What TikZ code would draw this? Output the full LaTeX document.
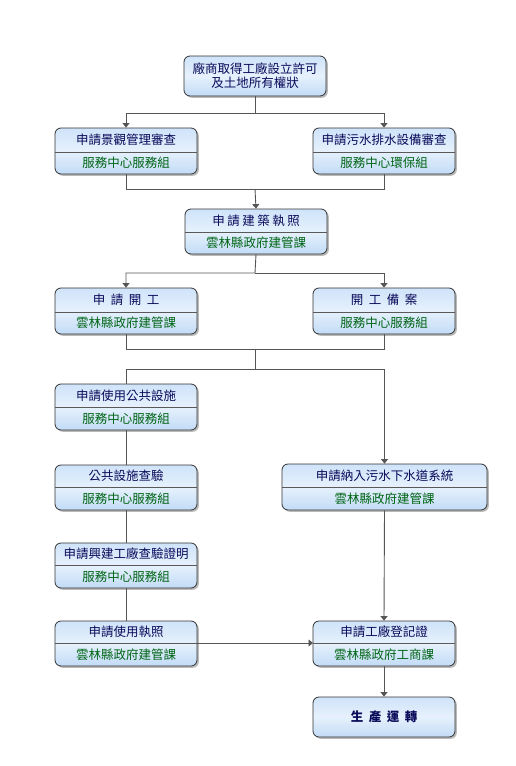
\documentclass[tikz,border=0pt]{standalone}
\usepackage{fontspec}
\setmainfont{Noto Sans CJK TC}
\usetikzlibrary{arrows.meta,shadows}
\definecolor{navy}{HTML}{0A0A5A}
\definecolor{dgreen}{HTML}{006414}
\definecolor{lncol}{HTML}{555555}
\definecolor{bxtop}{HTML}{CFE3F9}
\definecolor{bxmid}{HTML}{E6F1FC}
\definecolor{bxbot}{HTML}{C2DBF7}
\tikzset{
  boxst/.style={draw=black!80, line width=0.8pt, rounded corners=6pt,
    top color=bxtop, bottom color=bxbot, middle color=bxmid,
    drop shadow={shadow xshift=1.8pt, shadow yshift=-1.8pt, fill=black!45, opacity=0.6},
    inner sep=0pt},
  divst/.style={draw=black!65, line width=0.6pt},
  titlest/.style={text=navy, font=\fontsize{12.5}{14}\selectfont, inner sep=0pt},
  subst/.style={text=dgreen, font=\fontsize{12.5}{14}\selectfont, inner sep=0pt},
  conn/.style={draw=lncol, line width=0.9pt},
  arr/.style={conn, -{Triangle[length=4.5pt,width=7pt]}}
}
% name, cx, ytop, ydiv, ybot, halfwidth, title, sub
\newcommand\pbox[8]{%
  \node[boxst, minimum width={2*#6*1pt}, minimum height={(#5-#3)*1pt}] (#1) at (#2,{(#3+#5)/2}) {};
  \coordinate (#1-dl) at ({#2-#6},#4);
  \coordinate (#1-dr) at ({#2+#6},#4);
  \draw[divst] (#1-dl) -- (#1-dr);
  \node[titlest] (#1t) at (#2,{(#3+#4)/2}) {#7};
  \node[subst] (#1s) at (#2,{(#4+#5)/2}) {#8};
}
\newcommand\gp{\hspace{5.5pt}}
\begin{document}
\begin{tikzpicture}[x=1pt,y=-1pt]
\useasboundingbox (0,0) rectangle (515,766);
\fill[white] (0,0) rectangle (515,766);
% top
\node[boxst, minimum width=142pt, minimum height=40pt] (top) at (255,76) {};
\node[titlest, align=center] (topt) at (255,76) {廠商取得工廠設立許可\\及土地所有權狀};
% row 2
\pbox{b1}{126}{128}{152}{174}{71}{申請景觀管理審查}{服務中心服務組}
\pbox{b2}{384}{128}{152}{174}{71}{申請污水排水設備審查}{服務中心環保組}
% row 3
\pbox{b3}{256}{209}{232}{254}{71}{申\hspace{2.5pt}請\hspace{2.5pt}建\hspace{2.5pt}築\hspace{2.5pt}執\hspace{2.5pt}照}{雲林縣政府建管課}
% row 4
\pbox{b4}{126}{288}{312}{334}{71}{申\gp 請\gp 開\gp 工}{雲林縣政府建管課}
\pbox{b5}{384}{288}{312}{334}{71}{開\gp 工\gp 備\gp 案}{服務中心服務組}
% left column
\pbox{b6}{126}{384}{407}{430}{71}{申請使用公共設施}{服務中心服務組}
\pbox{b7}{126}{465}{487}{510}{71}{公共設施查驗}{服務中心服務組}
\pbox{b8}{126}{543}{565}{588}{71}{申請興建工廠查驗證明}{服務中心服務組}
\pbox{b9}{126}{621}{643}{666}{71}{申請使用執照}{雲林縣政府建管課}
% right column
\pbox{r1}{384.5}{464}{487}{510}{102.5}{申請納入污水下水道系統}{雲林縣政府建管課}
\pbox{r2}{384}{621}{643}{666}{71}{申請工廠登記證}{雲林縣政府工商課}
\node[boxst, minimum width=142pt, minimum height=40pt] (r3) at (384,717) {};
\node[titlest, font=\fontsize{12.5}{14}\selectfont\bfseries] (r3t) at (384,717) {生\gp 產\gp 運\gp 轉};
% junction coordinates
\coordinate (j1) at (255,113);
\coordinate (j2) at (255,189);
\coordinate (j3) at (255,273);
\coordinate (j4) at (255,349);
\coordinate (j5) at (255,369);
% connectors
\draw[arr] (top.south) -- (j1) -| (b1.north);
\draw[arr] (j1) -| (b2.north);
\draw[conn] (b1.south) |- (j2);
\draw[conn] (b2.south) |- (j2);
\draw[arr] (j2) -- (b3.north);
\draw[arr] (b3.south) -- (j3) -| (b4.north);
\draw[arr] (j3) -| (b5.north);
\draw[conn] (b4.south) |- (j4);
\draw[conn] (b5.south) |- (j4);
\draw[conn] (j4) -- (j5);
\draw[conn] (j5) -| (b6.north);
\draw[arr] (j5) -| (r1.north);
\draw[conn] (b6.south) -- (b7.north);
\draw[conn] (b7.south) -- (b8.north);
\draw[conn] (b8.south) -- (b9.north);
\draw[arr] (b9-dr) -- (r2-dl);
\draw[arr] (r1.south) -- (r2.north);
\draw[arr] (r2.south) -- (r3.north);
\end{tikzpicture}
\end{document}
